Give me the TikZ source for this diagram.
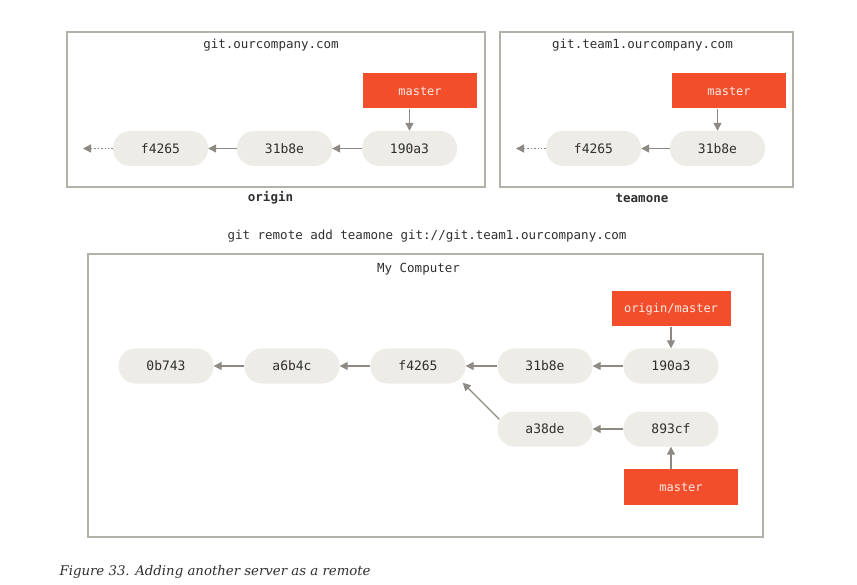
\documentclass[tikz,border=0pt]{standalone}
\usepackage{fontspec}
\setmainfont{Liberation Serif}
\setmonofont{DejaVu Sans Mono}
\newfontfamily\captionfont{DejaVu Serif}
\usetikzlibrary{arrows.meta,calc}

\definecolor{commitbg}{HTML}{EDECE6}
\definecolor{branchred}{HTML}{F24E2B}
\definecolor{linkgray}{HTML}{8E8983}
\definecolor{framegray}{HTML}{B3AFA9}
\definecolor{labelgray}{HTML}{2F2F2F}

\begin{document}
\begin{tikzpicture}[->,>={Triangle[length=8pt,width=8pt]},x=1pt,y=-1pt,
    commit/.style={rectangle, rounded corners=17pt, fill=commitbg, minimum width=95, minimum height=35, text=labelgray, font=\fontsize{13}{15}\ttfamily},
    branch/.style={rectangle, fill=branchred, minimum height=35, text=white!88!branchred, font=\fontsize{12}{14}\ttfamily},
    server/.style={rectangle, draw=framegray, line width=1.3pt},
    title/.style={text=labelgray, font=\fontsize{12.5}{15}\ttfamily},
    link/.style={draw=linkgray, fill=linkgray, line width=1.4pt},
  ]
  \useasboundingbox (0,0) rectangle (857,585);

  % origin server
  \node [server, minimum width=418, minimum height=155](origin) at (276,109.5){};
  \node [title](originname) at (271,45){git.ourcompany.com};
  \node [title, font=\fontsize{12.5}{15}\ttfamily\bfseries](originlabel) at (270.5,198){origin};
  \node [commit](o1) at (160.5,148.5){f4265};
  \node [commit](o2) at (284.5,148.5){31b8e};
  \node [commit](o3) at (409.5,148.5){190a3};
  \node [branch, minimum width=114](om) at (420,91){master};
  \coordinate (o0) at (83,148.5);

  % teamone server
  \node [server, minimum width=293, minimum height=155](teamone) at (646.5,109.5){};
  \node [title](teamonename) at (642.5,45){git.team1.ourcompany.com};
  \node [title, font=\fontsize{12.5}{15}\ttfamily\bfseries](teamonelabel) at (642,198){teamone};
  \node [commit](t1) at (593.5,148.5){f4265};
  \node [commit](t2) at (717.5,148.5){31b8e};
  \node [branch, minimum width=114](tm) at (729,91){master};
  \coordinate (t0) at (516,148.5);

  \node [title](command) at (427,236){git remote add teamone git://git.team1.ourcompany.com};

  % local repository
  \node [server, minimum width=675, minimum height=283](local) at (425.5,395.5){};
  \node [title](localname) at (418.5,269){My Computer};
  \node [commit](c1) at (166,366){0b743};
  \node [commit](c2) at (292,366){a6b4c};
  \node [commit](c3) at (418,366){f4265};
  \node [commit](c4) at (545,366){31b8e};
  \node [commit](c5) at (671,366){190a3};
  \node [commit](c6) at (545,429){a38de};
  \node [commit](c7) at (671,429){893cf};
  \node [branch, minimum width=119](cr) at (671,309){origin/master};
  \node [branch, minimum width=114, minimum height=36](cm) at (681,487){master};

  \node [anchor=west, text=labelgray, font=\fontsize{13.3}{16}\captionfont\itshape](caption) at (56,572){Figure 33. Adding another server as a remote};

  \path[every edge/.style={link}]
    (o3) edge (o2)
    (o2) edge (o1)
    (o1) edge[dotted] (o0)
    (om.south -| o3) edge (o3)

    (t2) edge (t1)
    (t1) edge[dotted] (t0)
    (tm.south -| t2) edge (t2)

    (c2) edge (c1)
    (c3) edge (c2)
    (c4) edge (c3)
    (c5) edge (c4)
    (c7) edge (c6)
    ($(c6.north west)+(2,8)$) edge ($(c3.south east)+(-3,-1)$)
    (cr) edge (c5)
    (cm.north -| c7) edge (c7)
  ;
\end{tikzpicture}
\end{document}
